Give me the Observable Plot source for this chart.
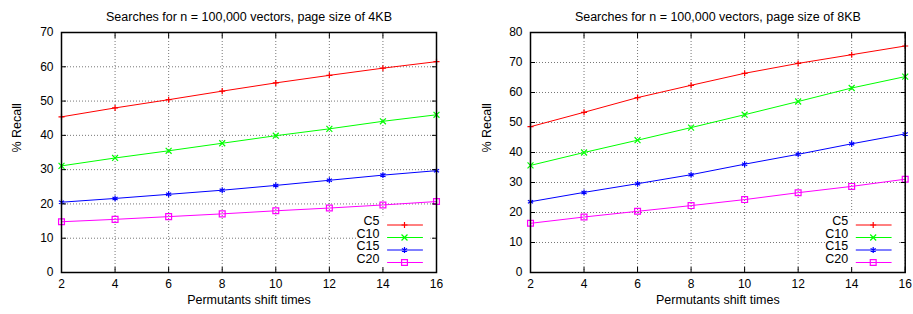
<!DOCTYPE html>
<html><head><meta charset="utf-8">
<script src="https://cdn.jsdelivr.net/npm/d3@7"></script>
<script src="https://cdn.jsdelivr.net/npm/@observablehq/plot@0.6"></script>
<style>
body{margin:0;background:#fff;}
#wrap{position:relative;width:913px;height:314px;overflow:hidden;background:#fff;}
#wrap svg{position:absolute;top:0;overflow:visible;}
</style></head><body><div id="wrap"></div>
<script>
const shiftTimes = [2, 4, 6, 8, 10, 12, 14, 16];
const seriesNames = ["C5", "C10", "C15", "C20"];
const seriesColors = ["#ff0000", "#00ff00", "#0000ff", "#ff00ff"];
const seriesSymbols = ["plus", "times", "asterisk", "square"];
const symbolRadius = [2.1, 2.8, 2.8, 3.3];

const recall4KB_C5  = [45.4, 48.0, 50.4, 52.9, 55.3, 57.5, 59.6, 61.5];
const recall4KB_C10 = [31.1, 33.4, 35.5, 37.7, 39.9, 41.9, 44.1, 46.0];
const recall4KB_C15 = [20.5, 21.6, 22.8, 24.0, 25.4, 26.9, 28.4, 29.7];
const recall4KB_C20 = [14.8, 15.5, 16.3, 17.1, 18.0, 18.8, 19.7, 20.7];

const recall8KB_C5  = [48.6, 53.4, 58.3, 62.4, 66.4, 69.7, 72.6, 75.5];
const recall8KB_C10 = [35.7, 40.0, 44.1, 48.3, 52.6, 57.0, 61.5, 65.3];
const recall8KB_C15 = [23.6, 26.7, 29.6, 32.6, 36.1, 39.4, 42.9, 46.2];
const recall8KB_C20 = [16.4, 18.5, 20.4, 22.3, 24.3, 26.6, 28.7, 31.1];

const title4KB = "Searches for n = 100,000 vectors, page size of 4KB";
const title8KB = "Searches for n = 100,000 vectors, page size of 8KB";
const xLabel = "Permutants shift times";
const yLabel = "% Recall";
const yTicks4KB = [0, 10, 20, 30, 40, 50, 60, 70];
const yTicks8KB = [0, 10, 20, 30, 40, 50, 60, 70, 80];

const FONT = "'Liberation Sans', Arial, Helvetica, sans-serif";

function makePanel({title, series, yTicks, width, marginLeft, marginRight, yLabelDx}) {
  const height = 314, marginTop = 32, marginBottom = 42;
  const plotW = width - marginLeft - marginRight;
  const rows = [-47.5, -35, -22.5, -10];
  const lineSample = {draw(c, l) { c.moveTo(0, 0); c.lineTo(0, -l); }};
  const marks = [
    Plot.gridX(shiftTimes, {stroke: "#777", strokeOpacity: 1, strokeDasharray: "1,2"}),
    Plot.gridY(yTicks, {stroke: "#777", strokeOpacity: 1, strokeDasharray: "1,2"}),
    Plot.frame({fill: "white", stroke: "none", insetLeft: plotW - 79, insetRight: 6, insetTop: 183, insetBottom: 4})
  ];
  series.forEach((vals, i) => {
    const data = shiftTimes.map((x, j) => ({x, y: vals[j]}));
    marks.push(Plot.line(data, {x: "x", y: "y", stroke: seriesColors[i], strokeWidth: 1}));
    marks.push(Plot.dot(data, {x: "x", y: "y", stroke: seriesColors[i], symbol: seriesSymbols[i], r: symbolRadius[i], strokeWidth: 1.2}));
  });
  marks.push(
    Plot.frame({stroke: "#000", strokeWidth: 1.5}),
    Plot.axisX(shiftTimes, {anchor: "bottom", tickSize: -5, text: null, label: null}),
    Plot.axisX(shiftTimes, {anchor: "top", tickSize: -5, text: null, label: null}),
    Plot.axisY(yTicks, {anchor: "left", tickSize: -5, text: null, label: null}),
    Plot.axisY(yTicks, {anchor: "right", tickSize: -5, text: null, label: null}),
    Plot.axisX(shiftTimes, {anchor: "bottom", tickSize: 0, tickPadding: 7, label: null, fontSize: 12, fill: "#000"}),
    Plot.axisY(yTicks, {anchor: "left", tickSize: 0, tickPadding: 8, label: null, fontSize: 12, fill: "#000"}),
    Plot.text([title], {frameAnchor: "top", dy: -20, text: d => d, fontSize: 12.5, fill: "#000"}),
    Plot.text([xLabel], {frameAnchor: "bottom", dy: 31, text: d => d, fontSize: 12.5, fill: "#000"}),
    Plot.text([yLabel], {frameAnchor: "left", dx: yLabelDx, dy: 0, rotate: -90, text: d => d, fontSize: 12.5, fill: "#000"})
  );
  seriesNames.forEach((name, i) => {
    marks.push(
      Plot.text([name], {frameAnchor: "bottom-right", dx: -57, dy: rows[i], text: d => d, textAnchor: "end", fontSize: 12.5, fill: "#000"}),
      Plot.vector([name], {frameAnchor: "bottom-right", dx: -49, dy: rows[i], rotate: 90, length: 35, anchor: "start", shape: lineSample, stroke: seriesColors[i], strokeWidth: 1}),
      Plot.dot([name], {frameAnchor: "bottom-right", dx: -32, dy: rows[i], stroke: seriesColors[i], symbol: seriesSymbols[i], r: symbolRadius[i], strokeWidth: 1.2})
    );
  });
  return Plot.plot({
    width, height, marginTop, marginBottom, marginLeft, marginRight,
    style: {fontFamily: FONT, fontSize: "12px", background: "transparent", color: "#000", overflow: "visible"},
    x: {domain: [2, 16], ticks: shiftTimes},
    y: {domain: [yTicks[0], yTicks[yTicks.length - 1]], ticks: yTicks},
    marks
  });
}

const wrap = document.getElementById("wrap");
const left = makePanel({
  title: title4KB,
  series: [recall4KB_C5, recall4KB_C10, recall4KB_C15, recall4KB_C20],
  yTicks: yTicks4KB, width: 456, marginLeft: 61, marginRight: 20, yLabelDx: -45
});
left.style.left = "0px";
const right = makePanel({
  title: title8KB,
  series: [recall8KB_C5, recall8KB_C10, recall8KB_C15, recall8KB_C20],
  yTicks: yTicks8KB, width: 457, marginLeft: 74, marginRight: 8.3, yLabelDx: -43.3
});
right.style.left = "456px";
wrap.appendChild(left);
wrap.appendChild(right);
</script>
</body></html>
